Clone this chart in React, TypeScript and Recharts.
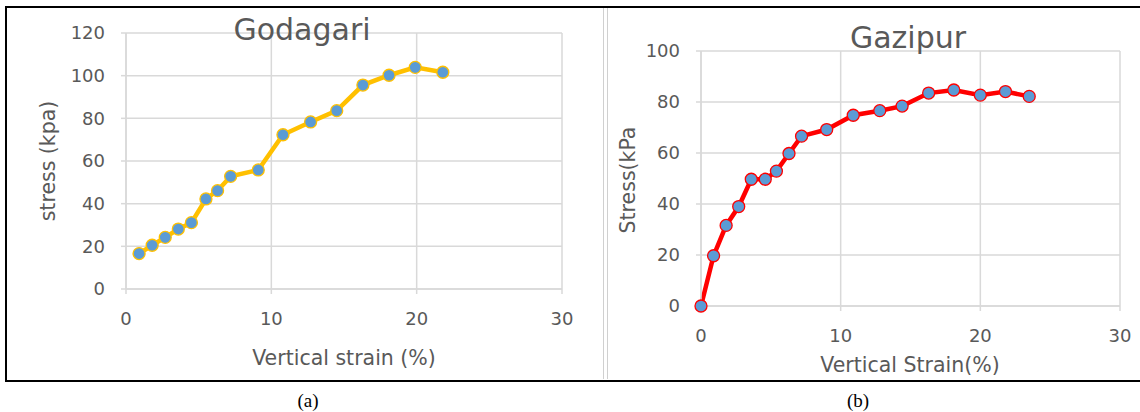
import { LineChart, Line, XAxis, YAxis, CartesianGrid } from 'recharts';

// strain (%) vs stress (kPa)
const godagariStrain = [0.9, 1.8, 2.7, 3.6, 4.5, 5.5, 6.3, 7.2, 9.1, 10.8, 12.7, 14.5, 16.3, 18.1, 19.9, 21.8];
const godagariStress = [16.6, 20.5, 24.2, 28.1, 31.1, 42.2, 46.1, 52.8, 55.8, 72.3, 78.3, 83.6, 95.6, 100.2, 103.9, 101.6];

const gazipurStrain = [0, 0.9, 1.8, 2.7, 3.6, 4.6, 5.4, 6.3, 7.2, 9.0, 10.9, 12.8, 14.4, 16.3, 18.1, 20.0, 21.8, 23.5];
const gazipurStress = [0, 19.7, 31.6, 39.0, 49.7, 49.7, 52.9, 59.8, 66.6, 69.2, 74.8, 76.6, 78.4, 83.5, 84.7, 82.7, 84.1, 82.2];

const strainTicks = [0, 10, 20, 30];
const godagariTicks = [0, 20, 40, 60, 80, 100, 120];
const gazipurTicks = [0, 20, 40, 60, 80, 100];

const toRows = (xs: number[], ys: number[]) => xs.map((x, i) => ({ x, y: ys[i] }));

const FONT = '"DejaVu Sans", "Noto Sans", sans-serif';
const TEXT = '#595959';
const GRID = '#d9d9d9';

interface PanelProps {
  left: number;
  width: number;
  margin: { top: number; right: number; bottom: number; left: number };
  rows: { x: number; y: number }[];
  yTicks: number[];
  color: string;
}

function Panel({ left, width, margin, rows, yTicks, color }: PanelProps) {
  const tick = { fontSize: 18, fill: TEXT, fontFamily: FONT };
  return (
    <div style={{ position: 'absolute', left, top: 0 }}>
      <LineChart width={width} height={380} data={rows} margin={margin}>
        <CartesianGrid stroke={GRID} strokeWidth={1.5} />
        <XAxis
          dataKey="x"
          type="number"
          domain={[0, 30]}
          ticks={strainTicks}
          tick={tick}
          tickSize={5}
          tickMargin={18}
          stroke={GRID}
          strokeWidth={1.5}
          height={40}
        />
        <YAxis
          type="number"
          domain={[0, yTicks[yTicks.length - 1]]}
          ticks={yTicks}
          tick={tick}
          tickSize={5}
          tickMargin={16}
          stroke={GRID}
          strokeWidth={1.5}
          width={60}
        />
        <Line
          dataKey="y"
          stroke={color}
          strokeWidth={4.5}
          dot={{ r: 6, fill: '#5b9bd5', stroke: color, strokeWidth: 1.3 }}
          isAnimationActive={false}
        />
      </LineChart>
    </div>
  );
}

const abs = (style: React.CSSProperties): React.CSSProperties => ({
  position: 'absolute',
  fontFamily: FONT,
  color: TEXT,
  whiteSpace: 'nowrap',
  lineHeight: 1,
  ...style,
});

export default function App() {
  return (
    <div style={{ position: 'absolute', left: 0, top: 0, width: 1140, height: 412, background: '#fff', overflow: 'hidden' }}>
      {/* outer frame, open on the right */}
      <div
        style={{
          position: 'absolute',
          left: 5,
          top: 6,
          width: 1140,
          height: 372,
          borderTop: '2px solid #000',
          borderLeft: '2px solid #000',
          borderBottom: '2px solid #000',
        }}
      />
      {/* panel divider */}
      <div style={{ position: 'absolute', left: 603, top: 8, width: 1, height: 371, background: '#d0d0d0' }} />
      <div style={{ position: 'absolute', left: 607, top: 8, width: 1, height: 371, background: '#d0d0d0' }} />

      <Panel
        left={0}
        width={600}
        margin={{ top: 33, right: 38, bottom: 51, left: 66 }}
        rows={toRows(godagariStrain, godagariStress)}
        yTicks={godagariTicks}
        color="#ffc000"
      />
      <Panel
        left={600}
        width={540}
        margin={{ top: 51, right: 20, bottom: 34, left: 41 }}
        rows={toRows(gazipurStrain, gazipurStress)}
        yTicks={gazipurTicks}
        color="#ff0000"
      />

      <div style={abs({ left: 302, top: 30, fontSize: 30, transform: 'translate(-50%, -50%)' })}>Godagari</div>
      <div style={abs({ left: 48, top: 161, fontSize: 20.5, transform: 'translate(-50%, -50%) rotate(-90deg)' })}>stress (kpa)</div>
      <div style={abs({ left: 344, top: 358, fontSize: 20.5, transform: 'translate(-50%, -50%)' })}>Vertical strain (%)</div>

      <div style={abs({ left: 908, top: 38, fontSize: 30, transform: 'translate(-50%, -50%)' })}>Gazipur</div>
      <div style={abs({ left: 628, top: 180, fontSize: 20.5, transform: 'translate(-50%, -50%) rotate(-90deg)' })}>Stress(kPa</div>
      <div style={abs({ left: 910, top: 365, fontSize: 20.5, transform: 'translate(-50%, -50%)' })}>Vertical Strain(%)</div>

      <div style={abs({ left: 308, top: 400, fontSize: 19, color: '#000', fontFamily: '"Liberation Serif", serif', transform: 'translate(-50%, -50%)' })}>(a)</div>
      <div style={abs({ left: 858, top: 400, fontSize: 19, color: '#000', fontFamily: '"Liberation Serif", serif', transform: 'translate(-50%, -50%)' })}>(b)</div>
    </div>
  );
}
